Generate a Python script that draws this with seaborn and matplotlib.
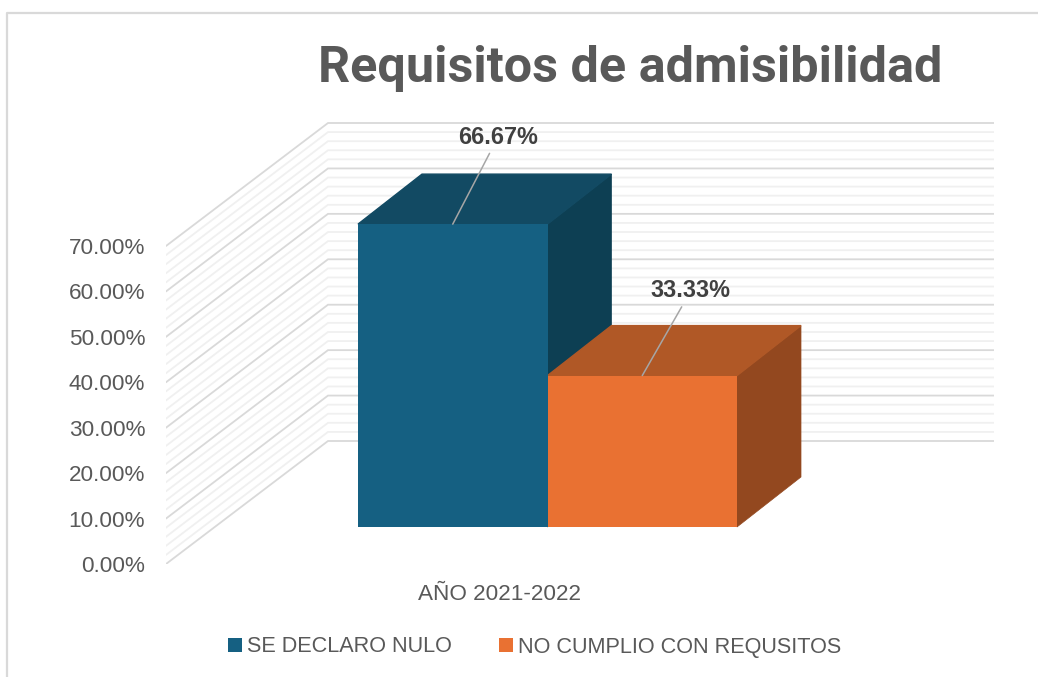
import numpy as np
import pandas as pd
import matplotlib
matplotlib.use('Agg')
import matplotlib.pyplot as plt
import seaborn as sns
from matplotlib.lines import Line2D
from matplotlib.patches import Polygon
from matplotlib.transforms import ScaledTranslation

categoria = ['AÑO 2021-2022', 'AÑO 2021-2022']
series = ['SE DECLARO NULO', 'NO CUMPLIO CON REQUSITOS']
valores = [66.67, 33.33]
etiquetas = ['66.67%', '33.33%']
ticks = [0, 10, 20, 30, 40, 50, 60, 70]
ticks_menores = [2, 4, 6, 8, 12, 14, 16, 18, 22, 24, 26, 28, 32, 34, 36, 38,
                 42, 44, 46, 48, 52, 54, 56, 58, 62, 64, 66, 68]
titulo = 'Requisitos de admisibilidad'

colores = ['#156082', '#E97132']
colores_techo = ['#124A63', '#B05826']
colores_lado = ['#0D3F53', '#93481F']

W, H = 1038, 677
PX_POR_UNIDAD = 318 / 70


def rect(x0, x1, y_abajo, y_arriba):
    return [x0 / W, 1 - y_abajo / H, (x1 - x0) / W, (y_abajo - y_arriba) / H]


sns.set_theme(style='white')
plt.rcParams['font.family'] = ['Liberation Sans', 'DejaVu Sans']

fig = plt.figure(figsize=(W / 100, H / 100), dpi=100)

# marco del grafico
fig.add_artist(Line2D([6.5 / W, 6.5 / W, 1], [0, 1 - 13 / H, 1 - 13 / H], color='#D9D9D9', lw=1.6))

# paredes, eje y real
ax_pared = fig.add_axes(rect(166, 994, 564, 122))
prof_x = 162
prof_y = 123 / PX_POR_UNIDAD
ax_pared.set_xlim(0, 828)
ax_pared.set_ylim(0, 442 / PX_POR_UNIDAD)
for v in ticks_menores:
    ax_pared.plot([0, prof_x, 828], [v, v + prof_y, v + prof_y], color='#F0F0F0', lw=1.3, solid_joinstyle='miter')
for v in ticks:
    ax_pared.plot([0, prof_x, 828], [v, v + prof_y, v + prof_y], color='#D9D9D9', lw=1.3, solid_joinstyle='miter')
ax_pared.set_yticks(ticks)
ax_pared.set_yticklabels([f'{t:.2f}%' for t in ticks], color='#595959', fontsize=16.2)
ax_pared.tick_params(axis='y', length=0, pad=15)
ax_pared.set_xticks([])
sns.despine(ax=ax_pared, left=True, bottom=True)
ax_pared.patch.set_alpha(0)

# barras
ax_barras = fig.add_axes(rect(167, 928, 527, 527 - 442))
ax_barras.patch.set_alpha(0)
df = pd.DataFrame({'periodo': categoria, 'serie': series, 'valor': valores})
sns.barplot(data=df, x='periodo', y='valor', hue='serie', palette=colores, width=379 / 761,
            saturation=1, ax=ax_barras, linewidth=0)
ax_barras.set_xlim(-0.5, 0.5)
ax_barras.set_ylim(0, 442 / PX_POR_UNIDAD)
ax_barras.set_ylabel('')
ax_barras.set_xlabel('')
ax_barras.set_yticks([])
sns.despine(ax=ax_barras, left=True, bottom=True)

# caras de profundidad
dx = 64 / 761
dy = 50 / PX_POR_UNIDAD
barras = [c[0] for c in ax_barras.containers]
for b, techo, lado in zip(barras, colores_techo, colores_lado):
    x0, x1, h = b.get_x(), b.get_x() + b.get_width(), b.get_height()
    ax_barras.add_patch(Polygon([(x1, 0), (x1 + dx, dy), (x1 + dx, h + dy), (x1, h)],
                                facecolor=lado, edgecolor=lado, lw=0.5, zorder=0.9, clip_on=False))
    ax_barras.add_patch(Polygon([(x0, h), (x0 + dx, h + dy), (x1 + dx, h + dy), (x1, h)],
                                facecolor=techo, edgecolor=techo, lw=1, zorder=0.9, clip_on=False))

# etiquetas de datos con linea guia
desvios = [(32.5, 62.5), (35, 61)]
for b, txt, desvio in zip(barras, etiquetas, desvios):
    ax_barras.annotate(txt, xy=(b.get_x() + b.get_width() / 2, b.get_height()),
                       xytext=desvio, textcoords='offset points', ha='center', va='center',
                       fontsize=16.8, fontweight='bold', color='#404040', zorder=5,
                       arrowprops=dict(arrowstyle='-', color='#A6A6A6', lw=1.1, shrinkA=1, shrinkB=0))

# etiqueta de categoria en el plano del piso
ax_barras.tick_params(axis='x', length=0, pad=41, labelsize=16.2, labelcolor='#595959')
desplazar = ScaledTranslation(-48 / 100, 0, fig.dpi_scale_trans)
for lab in ax_barras.get_xticklabels():
    lab.set_transform(lab.get_transform() + desplazar)

sns.move_legend(ax_barras, 'center', bbox_to_anchor=(534.5 / W, 1 - 647 / H), bbox_transform=fig.transFigure,
                ncol=2, frameon=False, title=None, fontsize=15.6, labelcolor='#595959',
                handlelength=0.65, handleheight=0.65, handletextpad=0.2, columnspacing=2.2)

fig.text(630.5 / W, 1 - 68 / H, titulo, ha='center', va='center', fontsize=36.3, fontweight='bold',
         color='#595959', family=['Roboto', 'DejaVu Sans'])

plt.savefig('out.png', dpi=100)
